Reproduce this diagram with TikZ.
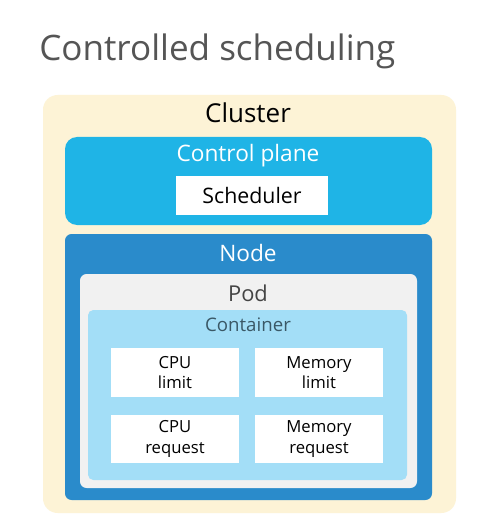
\documentclass[tikz,border=0pt]{standalone}
\usepackage{fontspec}
\setmainfont{Open Sans}
\usetikzlibrary{fit}
\definecolor{cream}{HTML}{FDF3D6}
\definecolor{ctrl}{HTML}{1FB4E6}
\definecolor{nodeblue}{HTML}{2A8BCB}
\definecolor{podgray}{HTML}{F1F1F1}
\definecolor{contblue}{HTML}{A3DEF7}
\definecolor{titlegray}{HTML}{555555}
\definecolor{podtext}{HTML}{444444}
\definecolor{conttext}{HTML}{3A5866}
\tikzset{
  area/.style={inner sep=0pt, draw=none},
  wbox/.style={area, fill=white, align=center, font=\fontsize{12.5}{15.5}\selectfont, text=black},
  lbl/.style={inner sep=0pt, anchor=center},
}
\begin{document}
\begin{tikzpicture}[x=0.75pt,y=-0.75pt]
\useasboundingbox (0,0) rectangle (494,524);
\fill[white] (0,0) rectangle (494,524);
\node[lbl, anchor=base west, text=titlegray, font=\fontsize{26.3}{31}\selectfont] (title) at (39,61) {Controlled scheduling};
\node[area, fill=cream, rounded corners=11pt, fit={(43,95) (456,513)}] (cluster) {};
\node[lbl, font=\fontsize{19.5}{23}\selectfont] (clusterlbl) at (248,113) {Cluster};
\node[area, fill=ctrl, rounded corners=9pt, fit={(65,137) (432,225)}] (ctrlplane) {};
\node[lbl, text=white, font=\fontsize{17}{20}\selectfont] (ctrllbl) at (248,156) {Control plane};
\node[wbox, fit={(176,176) (328,215)}] (sched) {};
\node[lbl, font=\fontsize{16}{19}\selectfont] (schedlbl) at (sched) {Scheduler};
\node[area, fill=nodeblue, rounded corners=5pt, fit={(65,234) (432,500)}] (nodebox) {};
\node[lbl, text=white, font=\fontsize{17}{20}\selectfont] (nodelbl) at (248,253) {Node};
\node[area, fill=podgray, rounded corners=5pt, fit={(80,274) (417,488)}] (pod) {};
\node[lbl, text=podtext, font=\fontsize{16.4}{20}\selectfont] (podlbl) at (248,293) {Pod};
\node[area, fill=contblue, rounded corners=4pt, fit={(88,310) (407,480)}] (container) {};
\node[lbl, text=conttext, font=\fontsize{14}{17}\selectfont] (contlbl) at (248,325) {Container};
\node[wbox, fit={(111,348) (239,397)}] (cpulim) {};
\node[lbl, align=center, font=\fontsize{12.5}{15.5}\selectfont] at (cpulim) {CPU\\limit};
\node[wbox, fit={(255,348) (383,397)}] (memlim) {};
\node[lbl, align=center, font=\fontsize{12.5}{15.5}\selectfont] at (memlim) {Memory\\limit};
\node[wbox, fit={(111,415) (239,463)}] (cpureq) {};
\node[lbl, align=center, font=\fontsize{12.5}{15.5}\selectfont] at (cpureq) {CPU\\request};
\node[wbox, fit={(255,415) (383,463)}] (memreq) {};
\node[lbl, align=center, font=\fontsize{12.5}{15.5}\selectfont] at (memreq) {Memory\\request};
\end{tikzpicture}
\end{document}
